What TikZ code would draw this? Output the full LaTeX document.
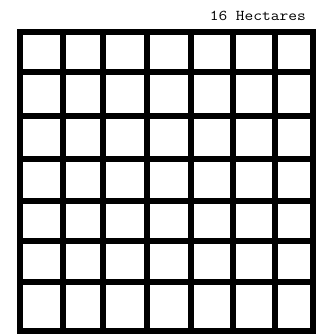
\documentclass[tikz,border=0pt]{standalone}
\begin{document}
\begin{tikzpicture}[x=1pt,y=-1pt,
  gridline/.style={line width=6pt,black,line cap=rect},
  label/.style={font=\ttfamily\fontsize{15}{17}\selectfont,inner sep=0pt}]
\useasboundingbox (0,0) rectangle (328,335);
\def\xs{20,63,103,146.5,190.5,232.5,274.5,312.5}
\def\ys{32,72,115.5,158.5,201,241,282,330.5}
\foreach \x in \xs {\draw[gridline] (\x,32) -- (\x,330.5);}
\foreach \y in \ys {\draw[gridline] (20,\y) -- (312.5,\y);}
\node[label,anchor=base east] (title) at (306,20) {\scalebox{1.13}[1]{16 Hectares}};
\end{tikzpicture}
\end{document}
